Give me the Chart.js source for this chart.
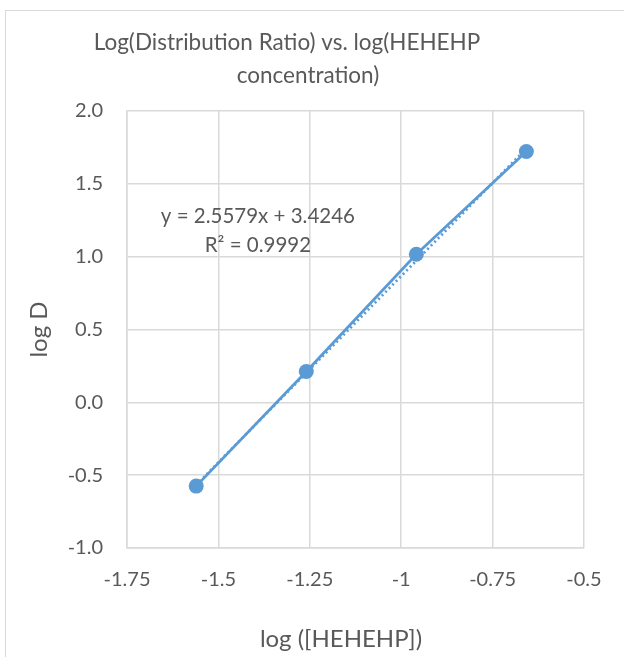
<!DOCTYPE html>
<html>
<head>
<meta charset="utf-8">
<title>Log D vs log HEHEHP</title>
<script src="https://cdn.jsdelivr.net/npm/chart.js@4.4.1/dist/chart.umd.min.js"></script>
<style>
    html, body { margin: 0; padding: 0; background: #ffffff; overflow: hidden; }
    #wrap { position: relative; width: 624px; height: 657px; }
    #frame {
        position: absolute; left: 5px; top: 10px; width: 700px; height: 700px;
        border: 1px solid #d9d9d9; box-sizing: border-box;
    }
    canvas { position: absolute; left: 0; top: 0; }
</style>
</head>
<body>
<div id="wrap">
    <div id="frame"></div>
    <canvas id="chart" width="624" height="657"></canvas>
</div>
<script>
// Chart data
const titleLines = ['Log(Distribution Ratio) vs. log(HEHEHP', 'concentration)'];
const xAxisTitle = 'log ([HEHEHP])';
const yAxisTitle = 'log D';
const logConc = [-1.5607, -1.2596, -0.9586, -0.6576];
const logD = [-0.575, 0.212, 1.017, 1.722];
const xTicks = [-1.75, -1.5, -1.25, -1, -0.75, -0.5];
const yTicks = [-1.0, -0.5, 0.0, 0.5, 1.0, 1.5, 2.0];
const trendSlope = 2.5579;
const trendIntercept = 3.4246;
const trendR2 = 0.9992;

const TEXT = '#595959';
const GRID = '#d9d9d9';
const BLUE = '#5b9bd5';
const FONT = 'Lato, "Open Sans", sans-serif';

// Build point tables
const points = logConc.map((x, i) => ({ x: x, y: logD[i] }));
const trendX = [logConc[0], logConc[logConc.length - 1]];
const trendPoints = trendX.map(x => ({ x: x, y: trendSlope * x + trendIntercept }));

// Title, x axis title and trendline label
const textPlugin = {
    id: 'textPlugin',
    afterDraw(chart) {
        const ctx = chart.ctx;
        const xs = chart.scales.x;
        const ys = chart.scales.y;
        ctx.save();
        ctx.fillStyle = TEXT;
        ctx.textAlign = 'center';
        ctx.textBaseline = 'middle';
        ctx.font = '22.5px ' + FONT;
        ctx.fillText(titleLines[0], 287, 43);
        ctx.fillText(titleLines[1], 308, 76);

        ctx.font = '24px ' + FONT;
        ctx.fillText(xAxisTitle, 341, 639);

        ctx.font = '20.5px ' + FONT;
        const cx = xs.getPixelForValue(-1.392);
        const cy = ys.getPixelForValue(1.277);
        ctx.fillText('y = ' + trendSlope.toFixed(4) + 'x + ' + trendIntercept.toFixed(4), cx, cy);
        ctx.fillText('R\u00B2 = ' + trendR2.toFixed(4), cx, cy + 29);
        ctx.restore();
    }
};

const ctx = document.getElementById('chart');
new Chart(ctx, {
    type: 'scatter',
    data: {
        datasets: [
            {
                label: 'log D',
                data: points,
                showLine: true,
                borderColor: BLUE,
                backgroundColor: BLUE,
                borderWidth: 2.75,
                pointRadius: 7.5,
                pointHoverRadius: 7.5,
                pointBorderWidth: 0,
                order: 2
            },
            {
                label: 'Linear trend',
                data: trendPoints,
                showLine: true,
                borderColor: BLUE,
                borderWidth: 2.75,
                borderDash: [2, 3],
                pointRadius: 0,
                order: 1
            }
        ]
    },
    options: {
        responsive: false,
        animation: false,
        layout: { padding: { top: 111, right: 40, bottom: 0, left: 0 } },
        plugins: {
            legend: { display: false },
            tooltip: { enabled: false },
            title: { display: false }
        },
        scales: {
            x: {
                type: 'linear',
                min: xTicks[0],
                max: xTicks[xTicks.length - 1],
                afterFit(scale) { scale.height = 109; },
                afterBuildTicks(scale) { scale.ticks = xTicks.map(v => ({ value: v })); },
                grid: { color: GRID, lineWidth: 1.5, drawTicks: false },
                border: { color: GRID, width: 1.5 },
                ticks: {
                    color: TEXT,
                    padding: 20,
                    font: { family: FONT, size: 20 },
                    callback: v => String(v)
                }
            },
            y: {
                type: 'linear',
                min: yTicks[0],
                max: yTicks[yTicks.length - 1],
                afterFit(scale) { scale.width = 127; },
                afterBuildTicks(scale) { scale.ticks = yTicks.map(v => ({ value: v })); },
                grid: { color: GRID, lineWidth: 1.5, drawTicks: false },
                border: { color: GRID, width: 1.5 },
                ticks: {
                    color: TEXT,
                    padding: 24,
                    font: { family: FONT, size: 20 },
                    callback: v => v.toFixed(1)
                },
                title: {
                    display: true,
                    text: yAxisTitle,
                    color: TEXT,
                    font: { family: FONT, size: 24 },
                    padding: { top: 25, bottom: 0 }
                }
            }
        }
    },
    plugins: [textPlugin]
});
</script>
</body>
</html>
